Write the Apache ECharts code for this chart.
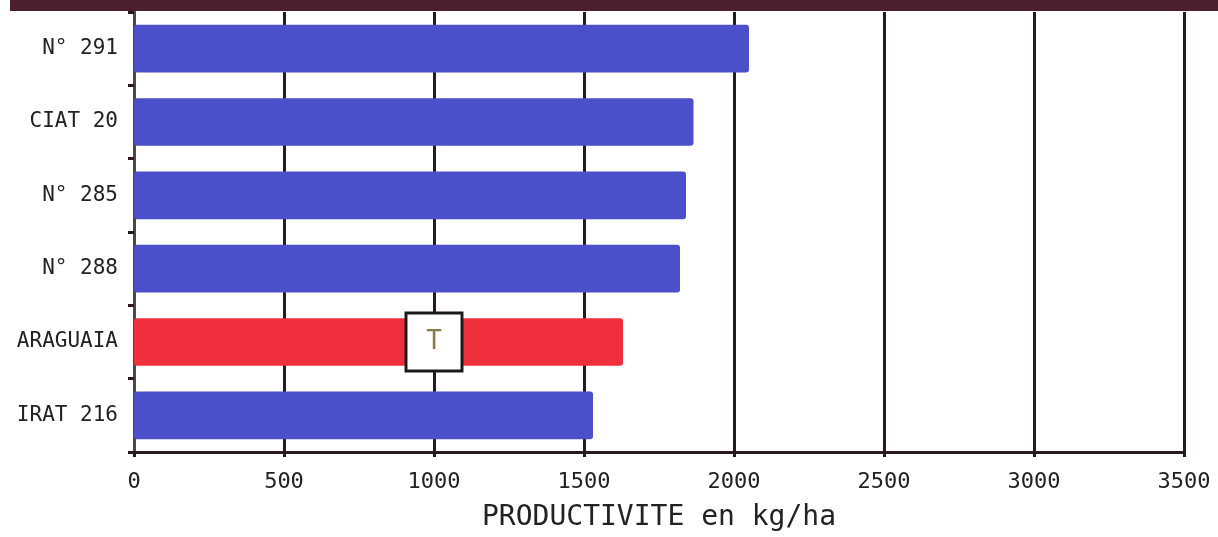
<!DOCTYPE html>
<html>
<head>
<meta charset="utf-8">
<style>
  html, body { margin: 0; padding: 0; background: #ffffff; }
  #chart { width: 1218px; height: 537px; }
</style>
<script src="https://cdn.jsdelivr.net/npm/echarts@6/dist/echarts.min.js"></script>
</head>
<body>
<div id="chart"></div>
<script>
// Rice varieties and their yield (kg/ha)
const varieties = ['N° 291', 'CIAT 20', 'N° 285', 'N° 288', 'ARAGUAIA', 'IRAT 216'];
const yields = [2050, 1865, 1840, 1820, 1630, 1530];
// ARAGUAIA is the control ("T" = témoin)
const controlVariety = 'ARAGUAIA';
const controlMarkValue = 1000;
const controlMarkText = 'T';
const xTicks = [0, 500, 1000, 1500, 2000, 2500, 3000, 3500];
const axisTitle = 'PRODUCTIVITE en kg/ha';

const BLUE = '#4b4fc9';
const RED = '#ef2f3b';
const INK = '#2a1a20';
const FONT = '"DejaVu Sans Mono", "Liberation Mono", monospace';

const chart = echarts.init(document.getElementById('chart'), null, { renderer: 'canvas' });

chart.setOption({
  animation: false,
  backgroundColor: '#ffffff',
  grid: { left: 134, right: 34, top: 12, bottom: 76, containLabel: false },
  graphic: [{
    type: 'rect',
    left: 10, top: 0,
    shape: { width: 1208, height: 11 },
    style: { fill: '#4d1f2c' },
    z: 10
  }],
  xAxis: {
    type: 'value',
    min: xTicks[0],
    max: xTicks[xTicks.length - 1],
    interval: 500,
    name: axisTitle,
    nameLocation: 'middle',
    nameGap: 52,
    nameTextStyle: { fontFamily: FONT, fontSize: 28, color: '#222' },
    axisLine: { show: true, lineStyle: { color: INK, width: 3 } },
    axisTick: { show: true, length: 5, lineStyle: { color: INK, width: 3 } },
    axisLabel: {
      fontFamily: FONT, fontSize: 22, color: '#222', margin: 19,
      formatter: v => String(v)
    },
    splitLine: { show: true, lineStyle: { color: INK, width: 3 } }
  },
  yAxis: {
    type: 'category',
    data: varieties,
    inverse: true,
    axisLine: { show: true, lineStyle: { color: '#4a4a44', width: 3 } },
    axisTick: { show: true, length: 6, lineStyle: { color: INK, width: 3 } },
    axisLabel: { fontFamily: FONT, fontSize: 21, color: '#222', margin: 16 },
    splitLine: { show: false }
  },
  series: [
    {
      type: 'bar',
      data: yields.map((v, i) => ({
        value: v,
        itemStyle: { color: varieties[i] === controlVariety ? RED : BLUE }
      })),
      barCategoryGap: '35%',
      itemStyle: { borderRadius: 3 },
      z: 2
    },
    {
      type: 'scatter',
      data: [[controlMarkValue, controlVariety]],
      symbol: 'rect',
      symbolSize: [56, 58],
      itemStyle: { color: '#ffffff', borderColor: '#1a1a1a', borderWidth: 3, opacity: 1 },
      label: {
        show: true,
        position: 'inside',
        formatter: controlMarkText,
        fontFamily: FONT,
        fontSize: 26,
        color: '#8a7a4a'
      },
      z: 5
    }
  ]
});
</script>
</body>
</html>
